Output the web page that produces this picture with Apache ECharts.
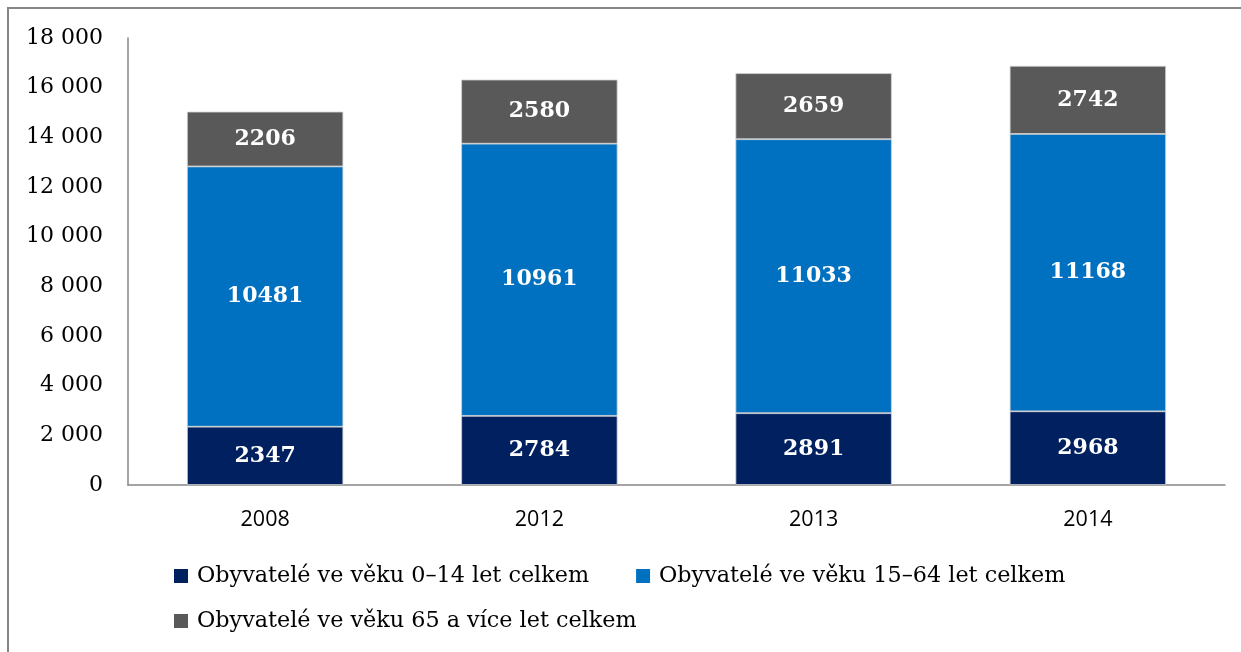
<!DOCTYPE html>
<html lang="cs">
<head>
    <meta charset="UTF-8">
    <title>Obyvatelé podle věku</title>
    <script src="https://cdn.jsdelivr.net/npm/echarts@6/dist/echarts.min.js"></script>
    <style>
        html, body { margin: 0; padding: 0; background: #fff; overflow: hidden; }
        #chart { width: 1241px; height: 652px; }
    </style>
</head>
<body>
<div id="chart"></div>
<script type="text/javascript">
    // data
    var years = ['2008', '2012', '2013', '2014'];
    var deti = [2347, 2784, 2891, 2968];        // 0-14
    var produktivni = [10481, 10961, 11033, 11168]; // 15-64
    var seniori = [2206, 2580, 2659, 2742];     // 65+
    var seriesNames = [
        'Obyvatelé ve věku 0–14 let celkem',
        'Obyvatelé ve věku 15–64 let celkem',
        'Obyvatelé ve věku 65 a více let celkem'
    ];

    var serif = '"DejaVu Serif", "Liberation Serif", serif';

    function fmt(v) {
        // 18 000 style
        return String(v).replace(/\B(?=(\d{3})+(?!\d))/g, ' ');
    }

    function makeSeries(name, data, color) {
        return {
            name: name,
            type: 'bar',
            stack: 'total',
            barWidth: '57%',
            data: data,
            itemStyle: { color: color, borderColor: '#d0d0d0', borderWidth: 0.8 },
            label: {
                show: true,
                position: 'inside',
                color: '#fff',
                fontFamily: serif,
                fontWeight: 'bold',
                fontSize: 22
            }
        };
    }

    var legendText = { fontFamily: serif, fontSize: 22.3, color: '#000', padding: [0, 0, 0, 4] };

    var chart = echarts.init(document.getElementById('chart'));
    var option = {
        animation: false,
        graphic: [{
            type: 'line',
            shape: { x1: 8, y1: 8, x2: 1241, y2: 8 },
            style: { stroke: '#868686', lineWidth: 2 },
            silent: true
        }, {
            type: 'line',
            shape: { x1: 8, y1: 7, x2: 8, y2: 652 },
            style: { stroke: '#868686', lineWidth: 2 },
            silent: true
        }],
        grid: { left: 128, right: 16, top: 38, bottom: 167 },
        legend: [{
            data: [seriesNames[0], seriesNames[1]],
            left: 174,
            top: 565,
            padding: 0,
            itemWidth: 14,
            itemHeight: 14,
            itemGap: 47,
            icon: 'rect',
            itemStyle: { borderWidth: 0 },
            textStyle: legendText
        }, {
            data: [seriesNames[2]],
            left: 174,
            top: 610,
            padding: 0,
            itemWidth: 14,
            itemHeight: 14,
            icon: 'rect',
            itemStyle: { borderWidth: 0 },
            textStyle: legendText
        }],
        xAxis: {
            type: 'category',
            data: years,
            axisLine: { lineStyle: { color: '#868686', width: 1.5 } },
            axisTick: { show: false },
            axisLabel: { color: '#000', fontFamily: '"Open Sans", sans-serif', fontSize: 21.5, margin: 24 }
        },
        yAxis: {
            type: 'value',
            min: 0,
            max: 18000,
            interval: 2000,
            axisLine: { show: true, lineStyle: { color: '#868686', width: 1.5 } },
            axisTick: { show: false },
            splitLine: { show: false },
            axisLabel: {
                color: '#000',
                fontFamily: serif,
                fontSize: 22,
                margin: 25,
                formatter: fmt
            }
        },
        series: [
            makeSeries(seriesNames[0], deti, '#002060'),
            makeSeries(seriesNames[1], produktivni, '#0070C0'),
            makeSeries(seriesNames[2], seniori, '#595959')
        ]
    };
    chart.setOption(option);
</script>
</body>
</html>
